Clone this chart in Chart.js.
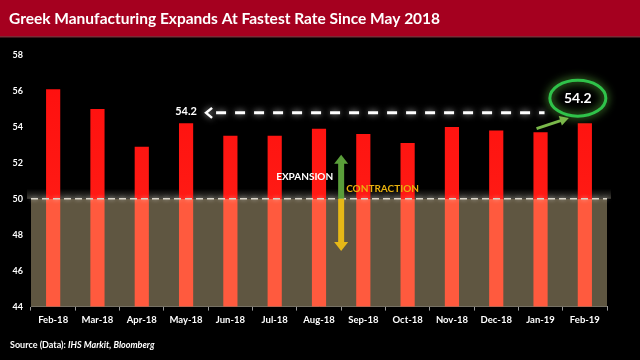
<!DOCTYPE html>
<html>
<head>
<meta charset="utf-8">
<script src="https://cdn.jsdelivr.net/npm/chart.js@4"></script>
<style>
	html, body { margin: 0; padding: 0; background: #000; }
	#wrap { width: 640px; height: 360px; position: relative; }
</style>
</head>
<body>
<div id="wrap"><canvas id="chart" width="640" height="360"></canvas></div>
<script>
// Greek manufacturing PMI, Feb-18 .. Feb-19
const months = ["Feb-18", "Mar-18", "Apr-18", "May-18", "Jun-18", "Jul-18", "Aug-18", "Sep-18", "Oct-18", "Nov-18", "Dec-18", "Jan-19", "Feb-19"];
const pmi = [56.1, 55.0, 52.9, 54.2, 53.5, 53.5, 53.9, 53.6, 53.1, 54.0, 53.8, 53.7, 54.2];
const yTicks = [44, 46, 48, 50, 52, 54, 56, 58];
const threshold = 50;
const highlight = 54.2;
const title = "Greek Manufacturing Expands At Fastest Rate Since May 2018";
const source = ["Source (Data): ", "IHS Markit, Bloomberg"];

const FONT = "Lato, 'Open Sans', sans-serif";

// red above 50, lighter orange-red below it
function barColor(ctx) {
	const chart = ctx.chart;
	const area = chart.chartArea;
	if (!area) return "#ff0000";
	const y = chart.scales.y;
	const cut = (y.getPixelForValue(threshold) - area.top) / (area.bottom - area.top);
	const g = chart.ctx.createLinearGradient(0, area.top, 0, area.bottom);
	g.addColorStop(0, "#ff0d0d");
	g.addColorStop(Math.min(Math.max(cut, 0), 1), "#ff1a14");
	g.addColorStop(Math.min(Math.max(cut, 0), 1), "#ff5a3e");
	g.addColorStop(1, "#ff5a3e");
	return g;
}

const decor = {
	id: "decor",
	beforeDraw(chart) {
		const c = chart.ctx;
		c.save();
		c.fillStyle = "#000";
		c.fillRect(0, 0, chart.width, chart.height);
		// title bar
		c.fillStyle = "#a5001f";
		c.fillRect(0, 0, chart.width, 36);
		c.fillStyle = "#7a2a36";
		c.fillRect(0, 36, chart.width, 1.5);
		c.fillStyle = "#fff";
		c.font = "bold 15.5px " + FONT;
		c.textBaseline = "middle";
		c.fillText(title, 9, 19);
		// source
		c.font = "bold 9px " + FONT;
		c.fillText(source[0], 10, 345);
		const w = c.measureText(source[0]).width;
		c.font = "italic bold 9px " + FONT;
		c.fillText(source[1], 10 + w, 345);
		c.restore();
	},
	beforeDatasetsDraw(chart) {
		const c = chart.ctx;
		const a = chart.chartArea;
		const y = chart.scales.y;
		const y50 = y.getPixelForValue(threshold);
		const yMin = y.getPixelForValue(y.min);
		c.save();
		// glow above the 50 line
		const g = c.createLinearGradient(0, y50 - 10, 0, y50);
		g.addColorStop(0, "rgba(120,120,110,0)");
		g.addColorStop(1, "rgba(150,145,130,0.45)");
		c.fillStyle = g;
		c.fillRect(a.left - 4, y50 - 10, a.right - a.left + 8, 10);
		c.fillStyle = "#5f5641";
		c.fillRect(a.left, y50, a.right - a.left, yMin - y50);
		c.restore();
	},
	afterDatasetsDraw(chart) {
		const c = chart.ctx;
		const a = chart.chartArea;
		const x = chart.scales.x;
		const y = chart.scales.y;
		const y50 = y.getPixelForValue(threshold);
		c.save();
		// dashed 50 line
		c.strokeStyle = "#d8d4c8";
		c.lineWidth = 1.5;
		c.setLineDash([7, 4]);
		c.shadowColor = "rgba(255,255,255,0.6)";
		c.shadowBlur = 4;
		c.beginPath();
		c.moveTo(a.left, y50);
		c.lineTo(a.right, y50);
		c.stroke();

		// dashed arrow back to May-18, drawn just above the bar tops
		const yh = y.getPixelForValue(54.78);
		const xStart = x.getPixelForValue(3) + 20;
		const xEnd = x.getPixelForValue(11) + 4;
		c.strokeStyle = "#ffffff";
		c.lineWidth = 3;
		c.setLineDash([10, 9]);
		c.shadowColor = "rgba(255,255,255,0.7)";
		c.shadowBlur = 6;
		c.beginPath();
		c.moveTo(xStart + 10, yh);
		c.lineTo(xEnd, yh);
		c.stroke();
		c.setLineDash([]);
		c.lineWidth = 2.5;
		c.beginPath();
		c.moveTo(xStart + 6, yh - 5);
		c.lineTo(xStart, yh);
		c.lineTo(xStart + 6, yh + 5);
		c.stroke();
		c.shadowBlur = 0;
		c.fillStyle = "#fff";
		c.font = "bold 11px " + FONT;
		c.textAlign = "center";
		c.textBaseline = "middle";
		c.fillText(highlight.toFixed(1), x.getPixelForValue(3), yh - 1);

		// green ellipse with label over Feb-19
		const ex = x.getPixelForValue(12) - 7;
		const ey = y.getPixelForValue(55.6);
		c.strokeStyle = "#2fc24a";
		c.lineWidth = 3;
		c.shadowColor = "rgba(120,230,80,0.9)";
		c.shadowBlur = 8;
		c.beginPath();
		c.ellipse(ex, ey, 28, 18, 0, 0, Math.PI * 2);
		c.stroke();
		c.shadowBlur = 0;
		c.fillStyle = "#fff";
		c.font = "bold 14px " + FONT;
		c.fillText(highlight.toFixed(1), ex, ey);

		// small green pointer
		const px0 = x.getPixelForValue(11) - 4;
		const py0 = y.getPixelForValue(53.9);
		const px1 = x.getPixelForValue(12) - 16;
		const py1 = y.getPixelForValue(54.5);
		c.strokeStyle = "#7ab84a";
		c.fillStyle = "#7ab84a";
		c.lineWidth = 3;
		const ang = Math.atan2(py1 - py0, px1 - px0);
		c.beginPath();
		c.moveTo(px0, py0);
		c.lineTo(px1 - 7 * Math.cos(ang), py1 - 7 * Math.sin(ang));
		c.stroke();
		c.beginPath();
		c.moveTo(px1, py1);
		c.lineTo(px1 - 9 * Math.cos(ang) + 5 * Math.sin(ang), py1 - 9 * Math.sin(ang) - 5 * Math.cos(ang));
		c.lineTo(px1 - 9 * Math.cos(ang) - 5 * Math.sin(ang), py1 - 9 * Math.sin(ang) + 5 * Math.cos(ang));
		c.closePath();
		c.fill();

		// expansion / contraction double arrow between Aug-18 and Sep-18
		const ax = (x.getPixelForValue(6) + x.getPixelForValue(7)) / 2;
		const aTop = y.getPixelForValue(52.45);
		const aBot = y.getPixelForValue(47.1);
		c.fillStyle = "#5a9e3a";
		c.fillRect(ax - 3, aTop + 8, 6, y50 - aTop - 8);
		c.beginPath();
		c.moveTo(ax, aTop);
		c.lineTo(ax - 7, aTop + 9);
		c.lineTo(ax + 7, aTop + 9);
		c.closePath();
		c.fill();
		c.fillStyle = "#e6b817";
		c.fillRect(ax - 3, y50, 6, aBot - y50 - 8);
		c.beginPath();
		c.moveTo(ax, aBot);
		c.lineTo(ax - 7, aBot - 9);
		c.lineTo(ax + 7, aBot - 9);
		c.closePath();
		c.fill();

		c.font = "bold 10px " + FONT;
		c.textAlign = "right";
		c.fillStyle = "#ffffff";
		c.fillText("EXPANSION", ax - 8, y.getPixelForValue(51.25));
		c.textAlign = "left";
		c.fillStyle = "#e8b10e";
		c.fillText("CONTRACTION", ax + 5, y.getPixelForValue(50.55));
		c.restore();
	},
};

new Chart(document.getElementById("chart"), {
	type: "bar",
	data: {
		labels: months,
		datasets: [
			{
				label: "PMI",
				data: pmi,
				backgroundColor: barColor,
				borderWidth: 0,
				categoryPercentage: 1,
				barPercentage: 0.32,
			},
		],
	},
	options: {
		responsive: false,
		animation: false,
		layout: { padding: { top: 55, right: 33, bottom: 30, left: 0 } },
		plugins: { legend: { display: false }, tooltip: { enabled: false } },
		scales: {
			y: {
				min: 44,
				max: 58,
				afterFit(scale) { scale.width = 31; },
				afterBuildTicks(scale) { scale.ticks = yTicks.map((v) => ({ value: v })); },
				grid: { display: false },
				border: { display: false },
				ticks: { color: "#ffffff", font: { family: FONT, size: 9, weight: "bold" }, padding: 0 },
			},
			x: {
				grid: { offset: true, drawOnChartArea: false, color: "#9a9a9a", tickLength: 4 },
				border: { color: "#9a9a9a", width: 1 },
				ticks: { color: "#ffffff", font: { family: FONT, size: 9.5, weight: "bold" }, padding: 4, maxRotation: 0 },
			},
		},
	},
	plugins: [decor],
});
</script>
</body>
</html>
